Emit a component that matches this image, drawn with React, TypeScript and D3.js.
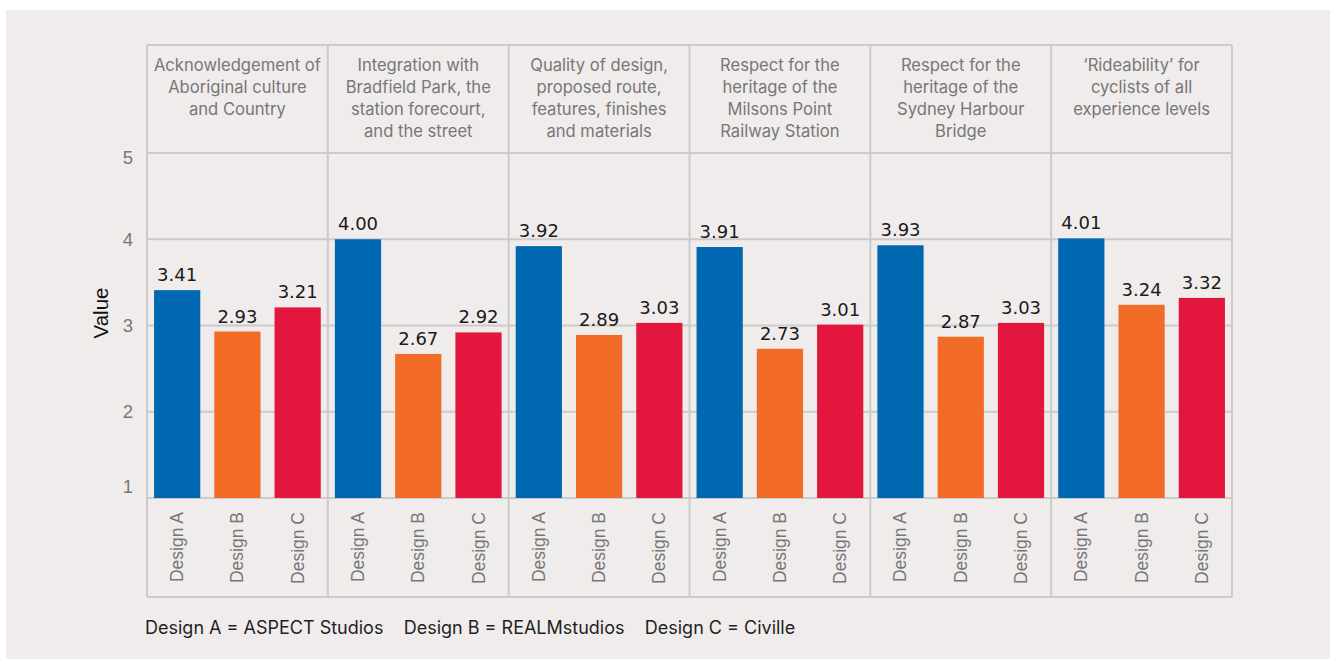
import * as d3 from "d3";

const criteria = [
  ["Acknowledgement of", "Aboriginal culture", "and Country"],
  ["Integration with", "Bradfield Park, the", "station forecourt,", "and the street"],
  ["Quality of design,", "proposed route,", "features, finishes", "and materials"],
  ["Respect for the", "heritage of the", "Milsons Point", "Railway Station"],
  ["Respect for the", "heritage of the", "Sydney Harbour", "Bridge"],
  ["\u2018Rideability\u2019 for", "cyclists of all", "experience levels"],
];
const designs = ["Design A", "Design B", "Design C"];
const designA = [3.41, 4.0, 3.92, 3.91, 3.93, 4.01];
const designB = [2.93, 2.67, 2.89, 2.73, 2.87, 3.24];
const designC = [3.21, 2.92, 3.03, 3.01, 3.03, 3.32];
const yTicks = [1, 2, 3, 4, 5];
const legend = "Design A = ASPECT Studios    Design B = REALMstudios    Design C = Civille";

const colors = ["#0067b1", "#f26b27", "#e3173e"];
const series = [designA, designB, designC];

const W = 1333;
const H = 659;
const left = 147;
const right = 1232;
const top = 45;
const stripBottom = 153;
const plotBottom = 498;
const labelBottom = 597;
const grid = "#cbcbcb";

export default function App() {
  const facet = d3
    .scaleBand<number>()
    .domain(d3.range(criteria.length))
    .range([left, right]);
  const y = d3.scaleLinear().domain([1, 5]).range([plotBottom, stripBottom]);
  const x = d3
    .scaleBand<string>()
    .domain(designs)
    .range([0, facet.bandwidth()])
    .paddingInner(0.233)
    .paddingOuter(0.117);

  return (
    <svg
      width={W}
      height={H}
      style={{ position: "absolute", left: 0, top: 0, background: "#fff" }}
    >
      <rect x={6} y={10} width={1324} height={649} fill="#efeceb" />

      {/* horizontal gridlines */}
      {yTicks.map((t) => (
        <line
          key={t}
          x1={left}
          x2={right}
          y1={y(t)}
          y2={y(t)}
          stroke={grid}
          strokeWidth={2}
        />
      ))}
      <line x1={left} x2={right} y1={top} y2={top} stroke={grid} strokeWidth={2} />
      <line x1={left} x2={right} y1={labelBottom} y2={labelBottom} stroke={grid} strokeWidth={2} />

      {/* vertical facet borders */}
      {d3.range(criteria.length + 1).map((i) => {
        const xx = i < criteria.length ? facet(i)! : right;
        return (
          <line key={i} x1={xx} x2={xx} y1={top} y2={labelBottom} stroke={grid} strokeWidth={2} />
        );
      })}

      {/* y ticks */}
      {yTicks.map((t) => (
        <text
          key={t}
          x={133}
          y={y(t) + (t === 5 ? 5 : t === 1 ? -11 : 0)}
          dy="0.35em"
          textAnchor="end"
          fill="#777"
          fontSize={18.5}
          fontFamily="Liberation Sans, Arial, sans-serif"
        >
          {t}
        </text>
      ))}
      <text
        transform={`translate(108,313) rotate(-90)`}
        textAnchor="middle"
        fill="#111"
        fontSize={20.5}
        fontFamily="Liberation Sans, Arial, sans-serif"
      >
        Value
      </text>

      {criteria.map((lines, i) => {
        const x0 = facet(i)!;
        return (
          <g key={i}>
            <text
              x={x0 + facet.bandwidth() / 2}
              y={71}
              textAnchor="middle"
              fill="#777"
              fontSize={16.6}
              fontFamily="Inter, Noto Sans, sans-serif"
            >
              {lines.map((l, j) => (
                <tspan key={j} x={x0 + facet.bandwidth() / 2} dy={j === 0 ? 0 : 22}>
                  {l}
                </tspan>
              ))}
            </text>
            {designs.map((d, k) => {
              const v = series[k][i];
              const bx = x0 + x(d)!;
              return (
                <g key={d}>
                  <rect
                    x={bx}
                    y={y(v)}
                    width={x.bandwidth()}
                    height={y(1) - y(v)}
                    fill={colors[k]}
                  />
                  <text
                    x={bx + x.bandwidth() / 2}
                    y={y(v) - 9}
                    textAnchor="middle"
                    fill="#1a1a1a"
                    fontSize={18}
                    fontFamily="DejaVu Sans, sans-serif"
                  >
                    {v.toFixed(2)}
                  </text>
                  <text
                    transform={`translate(${bx + x.bandwidth() / 2 + 6},${512}) rotate(-90)`}
                    textAnchor="end"
                    fill="#777"
                    fontSize={17.5}
                    fontFamily="Liberation Sans, Arial, sans-serif"
                  >
                    {d}
                  </text>
                </g>
              );
            })}
          </g>
        );
      })}

      <text
        x={145}
        y={634}
        fill="#1f1f1f"
        fontSize={18}
        fontFamily="Inter, Noto Sans, sans-serif"
        style={{ whiteSpace: "pre" }}
      >
        {legend}
      </text>
    </svg>
  );
}
